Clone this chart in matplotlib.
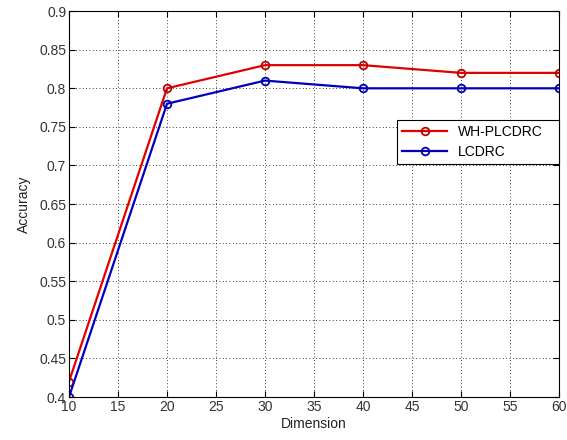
import matplotlib
matplotlib.use("Agg")
import matplotlib.pyplot as plt

dims = [10, 20, 30, 40, 50, 60]
wh_plcdrc = [0.42, 0.80, 0.83, 0.83, 0.82, 0.82]
lcdrc = [0.40, 0.78, 0.81, 0.80, 0.80, 0.80]

plt.rcParams['font.family'] = ['Liberation Sans', 'DejaVu Sans']

fig = plt.figure(figsize=(5.67, 4.40), dpi=100)
ax = fig.add_axes([0.1217, 0.0977, 0.864, 0.877])

ax.plot(dims, wh_plcdrc, color='#e00000', lw=1.6, marker='o', ms=5.5,
        mfc='none', mec='#c00000', mew=1.3, label='WH-PLCDRC')
ax.plot(dims, lcdrc, color='#0000c0', lw=1.6, marker='o', ms=5.5,
        mfc='none', mec='#0000b0', mew=1.3, label='LCDRC')

ax.set_xlim(10, 60)
ax.set_ylim(0.4, 0.9)
ax.set_xticks(range(10, 61, 5))
ax.set_yticks([0.4 + 0.05 * i for i in range(11)])
ax.set_yticklabels(['0.4', '0.45', '0.5', '0.55', '0.6', '0.65', '0.7',
                    '0.75', '0.8', '0.85', '0.9'])
ax.tick_params(direction='in', top=True, right=True, labelsize=10,
               length=4, width=0.8, pad=2, labelcolor='#333333')
ax.grid(True, linestyle=(0, (1, 3)), color='black', lw=0.6)
for sp in ax.spines.values():
    sp.set_linewidth(0.8)

ax.set_xlabel('Dimension', fontsize=10, labelpad=2, color='#222222')
ax.set_ylabel('Accuracy', fontsize=10, labelpad=6, color='#222222')

leg = ax.legend(loc='center', bbox_to_anchor=(0.669, 0.598, 0.331, 0.125),
                mode='expand', fontsize=10, fancybox=False, framealpha=1,
                edgecolor='black', borderaxespad=0, handlelength=3.2,
                labelspacing=0.4, borderpad=0.4)
leg.get_frame().set_linewidth(0.8)

fig.savefig('out.png', dpi=100)
